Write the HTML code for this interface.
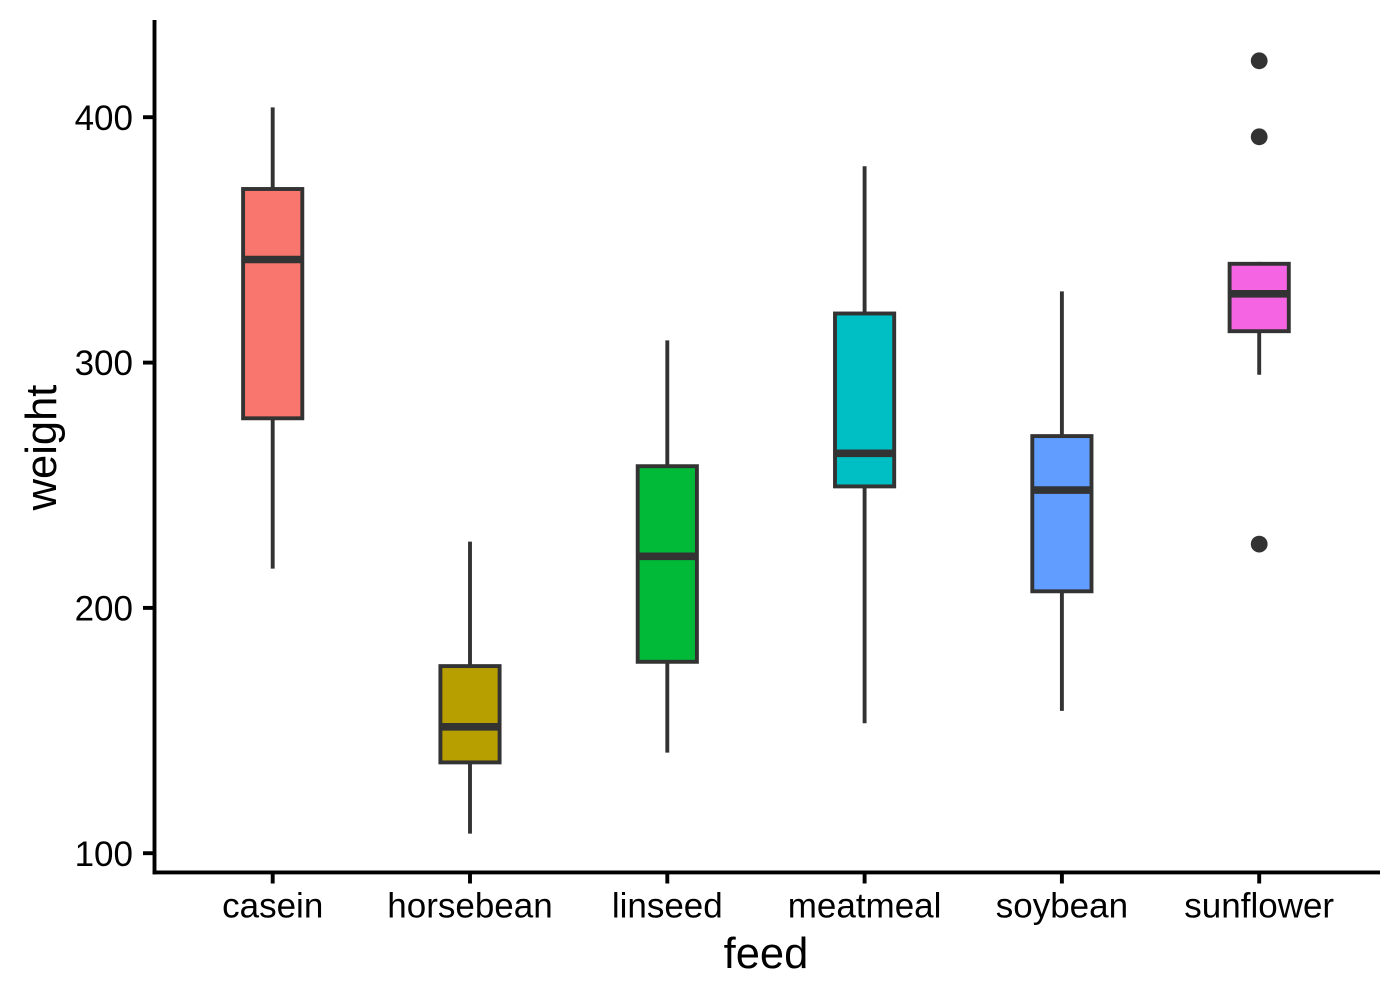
<!DOCTYPE html>
<html><head><meta charset="utf-8"><style>
html,body{margin:0;padding:0;background:#fff;}
svg{display:block;}
text{font-family:"Liberation Sans",Arial,sans-serif;fill:#000;}
</style></head><body>
<svg width="1400" height="1000" viewBox="0 0 1400 1000" xmlns="http://www.w3.org/2000/svg">
<rect width="1400" height="1000" fill="#fff"/>
<g stroke="#333333" stroke-width="3.9" fill="none">
<!-- casein -->
<line x1="272.7" y1="107.4" x2="272.7" y2="189.0"/>
<line x1="272.7" y1="418.3" x2="272.7" y2="568.6"/>
<rect x="243.1" y="189.0" width="59.2" height="229.3" fill="#F8766D"/>
<line x1="243.1" y1="259.5" x2="302.3" y2="259.5" stroke-width="7.6"/>
<!-- horsebean -->
<line x1="470.0" y1="541.6" x2="470.0" y2="666.1"/>
<line x1="470.0" y1="762.4" x2="470.0" y2="833.6"/>
<rect x="440.4" y="666.1" width="59.2" height="96.3" fill="#B79F00"/>
<line x1="440.4" y1="726.8" x2="499.6" y2="726.8" stroke-width="7.6"/>
<!-- linseed -->
<line x1="667.3" y1="340.4" x2="667.3" y2="466.2"/>
<line x1="667.3" y1="661.8" x2="667.3" y2="752.6"/>
<rect x="637.7" y="466.2" width="59.2" height="195.6" fill="#00BA38"/>
<line x1="637.7" y1="556.3" x2="696.9" y2="556.3" stroke-width="7.6"/>
<!-- meatmeal -->
<line x1="864.6" y1="166.3" x2="864.6" y2="313.5"/>
<line x1="864.6" y1="486.4" x2="864.6" y2="723.2"/>
<rect x="835.0" y="313.5" width="59.2" height="172.9" fill="#00BFC4"/>
<line x1="835.0" y1="453.3" x2="894.2" y2="453.3" stroke-width="7.6"/>
<!-- soybean -->
<line x1="1061.9" y1="291.4" x2="1061.9" y2="436.1"/>
<line x1="1061.9" y1="591.3" x2="1061.9" y2="710.9"/>
<rect x="1032.3" y="436.1" width="59.2" height="155.2" fill="#619CFF"/>
<line x1="1032.3" y1="490.1" x2="1091.5" y2="490.1" stroke-width="7.6"/>
<!-- sunflower -->
<line x1="1259.2" y1="261.9" x2="1259.2" y2="263.8"/>
<line x1="1259.2" y1="331.2" x2="1259.2" y2="374.8"/>
<rect x="1229.6" y="263.8" width="59.2" height="67.4" fill="#F564E3"/>
<line x1="1229.6" y1="293.8" x2="1288.8" y2="293.8" stroke-width="7.6"/>
</g>
<g fill="#333333">
<circle cx="1259.2" cy="60.8" r="8.4"/>
<circle cx="1259.2" cy="136.8" r="8.4"/>
<circle cx="1259.2" cy="544.1" r="8.4"/>
</g>
<!-- axes -->
<g stroke="#000" stroke-width="3.9" fill="none">
<line x1="154.5" y1="20" x2="154.5" y2="874.3"/>
<line x1="152.6" y1="872.4" x2="1380" y2="872.4"/>
<line x1="143" y1="117.2" x2="154.5" y2="117.2"/>
<line x1="143" y1="362.6" x2="154.5" y2="362.6"/>
<line x1="143" y1="607.9" x2="154.5" y2="607.9"/>
<line x1="143" y1="853.2" x2="154.5" y2="853.2"/>
<line x1="272.7" y1="872.4" x2="272.7" y2="883.5"/>
<line x1="470.0" y1="872.4" x2="470.0" y2="883.5"/>
<line x1="667.3" y1="872.4" x2="667.3" y2="883.5"/>
<line x1="864.6" y1="872.4" x2="864.6" y2="883.5"/>
<line x1="1061.9" y1="872.4" x2="1061.9" y2="883.5"/>
<line x1="1259.2" y1="872.4" x2="1259.2" y2="883.5"/>
</g>
<g font-size="35" text-anchor="end">
<text x="133" y="129.8">400</text>
<text x="133" y="375.2">300</text>
<text x="133" y="620.5">200</text>
<text x="133" y="865.8">100</text>
</g>
<g font-size="35" text-anchor="middle">
<text x="272.7" y="917.5">casein</text>
<text x="470.0" y="917.5">horsebean</text>
<text x="667.3" y="917.5">linseed</text>
<text x="864.6" y="917.5">meatmeal</text>
<text x="1061.9" y="917.5">soybean</text>
<text x="1259.2" y="917.5">sunflower</text>
</g>
<text x="766" y="968" font-size="43.5" text-anchor="middle">feed</text>
<text transform="translate(56,447.5) rotate(-90)" x="0" y="0" font-size="43.5" text-anchor="middle">weight</text>
</svg>
</body></html>
